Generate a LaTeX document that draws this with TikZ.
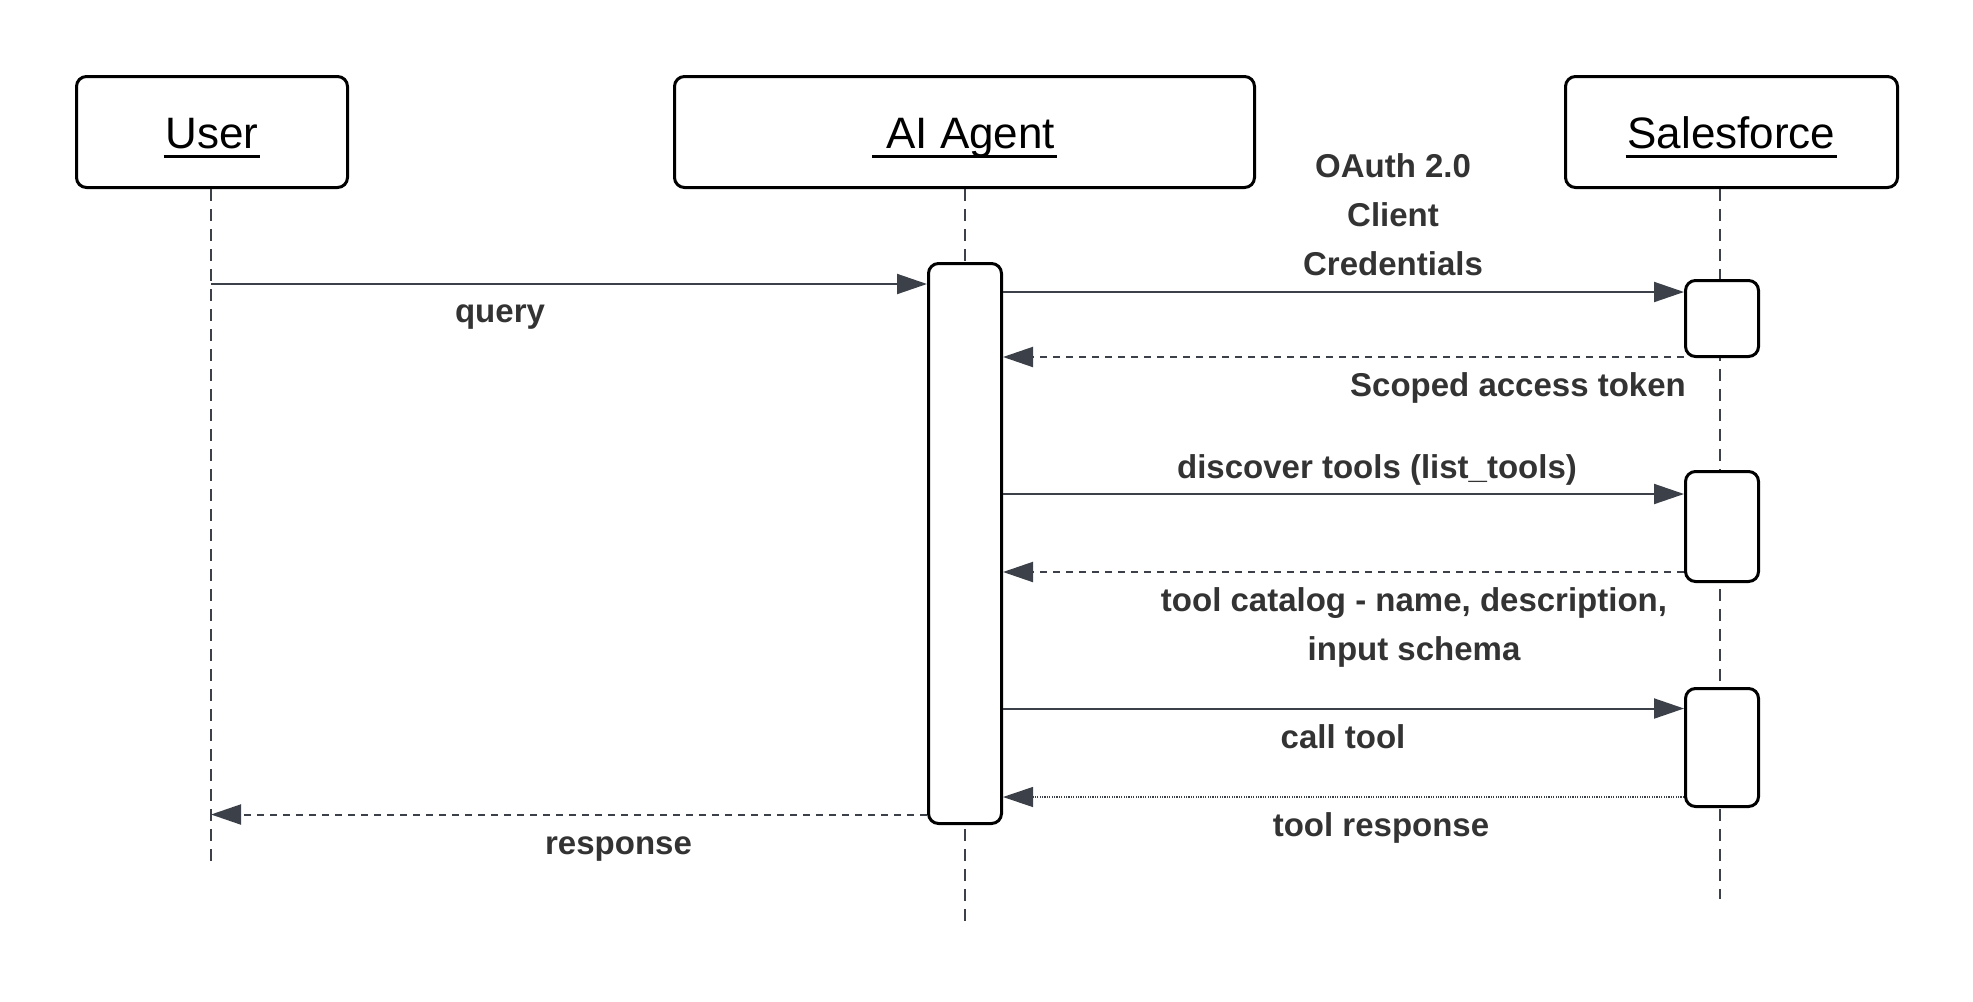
\documentclass[tikz,border=0pt]{standalone}
\usepackage{fontspec}
\setmainfont{Liberation Sans}
\usetikzlibrary{arrows.meta,positioning}
\definecolor{msgline}{RGB}{59,64,73}
\definecolor{msgtext}{RGB}{51,51,51}
\newcommand{\ulname}[1]{\setbox0=\hbox{#1}\rlap{\kern-1pt\vrule height -3.25pt depth 4.75pt width \dimexpr\wd0+2pt\relax}\box0}

\begin{document}
\begin{tikzpicture}[x=0.5pt,y=-0.5pt] % one unit is one pixel of the drawing, y grows downwards
\tikzset{actor/.style={draw=black, line width=1.5pt, rounded corners=5pt, minimum height=55.5pt, text height=20pt, text depth=4pt, font=\fontsize{22}{26}\selectfont}} % boxes on top
\tikzset{actbar/.style={draw=black, fill=white, line width=1.5pt, rounded corners=5pt, minimum width=36.5pt, inner sep=0pt}} % activation bars
\tikzset{lifeline/.style={draw=msgline, line width=0.75pt, dash pattern=on 6pt off 4pt}}
\tikzset{call/.style={draw=msgline, line width=1pt, -{Triangle[length=15pt,width=10pt]}}} % plain message
\tikzset{reply/.style={call, dash pattern=on 3.5pt off 3pt}} % dashed answer
\tikzset{dotreply/.style={call, line width=0.6pt, dash pattern=on 0.6pt off 0.6pt}} % dotted answer
\tikzset{msglabel/.style={text=msgtext, font=\bfseries\fontsize{16.5}{24.5}\selectfont, anchor=base, align=center, inner sep=0pt}} % base = last line
\useasboundingbox (0,0) rectangle (1973,1001);

\node[actor, minimum width=135.5pt] (user) at (212,132) {\ulname{User}};
\node[actor, minimum width=290pt] (agent) at (964.5,132) {\ulname{\ AI Agent}};
\node[actor, minimum width=166pt] (sf) at (1731.5,132) {\ulname{Salesforce}};

\coordinate (userend) at (211,861);
\coordinate (agentend) at (965,927);
\coordinate (sfend) at (1720,899);
\draw[lifeline] (userend |- user.south) -- (userend);
\draw[lifeline] (agentend |- agent.south) -- (agentend);
\draw[lifeline] (sfend |- sf.south) -- (sfend);

\node[actbar, minimum height=280pt] (agentbar) at (965,543.5) {};
\node[actbar, minimum height=38pt] (sfbar1) at (1722,318.5) {};
\node[actbar, minimum height=55pt] (sfbar2) at (1722,526.5) {};
\node[actbar, minimum height=59pt] (sfbar3) at (1722,747.5) {};

\draw[call] (userend |- 0,284) -- (agentbar.west |- 0,284);
\node[msglabel] (query) at (500,322) {query};
\draw[call] (agentbar.east |- 0,292) -- (sfbar1.west |- 0,292);
\node[msglabel] (oauth) at (1393,275.5) {OAuth 2.0\\Client\\Credentials};
\draw[reply] (sfbar1.west |- 0,357) -- (agentbar.east |- 0,357);
\node[msglabel] (token) at (1518,396.5) {Scoped access token};
\draw[call] (agentbar.east |- 0,494) -- (sfbar2.west |- 0,494);
\node[msglabel] (discover) at (1377,478) {discover tools (list\_tools)};
\draw[reply] (sfbar2.west |- 0,572) -- (agentbar.east |- 0,572);
\node[msglabel] (catalog) at (1414,660.5) {tool catalog - name, description,\\input schema};
\draw[call] (agentbar.east |- 0,708.5) -- (sfbar3.west |- 0,708.5);
\node[msglabel] (calltool) at (1343,748.5) {call tool};
\draw[dotreply] (sfbar3.west |- 0,797) -- (agentbar.east |- 0,797);
\node[msglabel] (toolresp) at (1381,836.5) {tool response};
\draw[reply] (agentbar.west |- 0,814.5) -- (userend |- 0,814.5);
\node[msglabel] (response) at (618.5,854.5) {response};
\end{tikzpicture}
\end{document}
